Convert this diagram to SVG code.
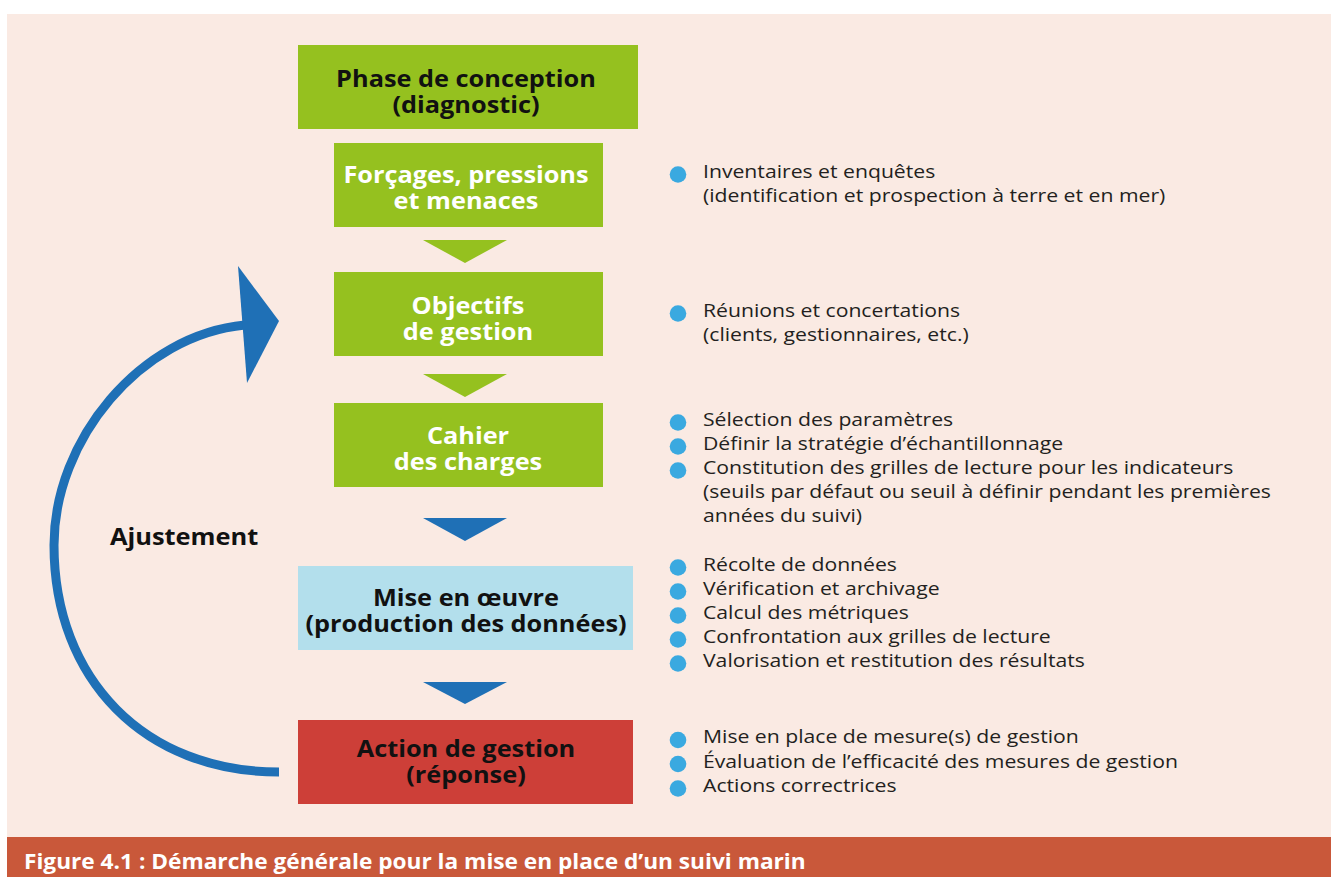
<svg xmlns="http://www.w3.org/2000/svg" width="1331" height="877" viewBox="0 0 1331 877">
<style>
.bg{fill:#FAEAE3}
.g{fill:#95C11F}
.lb{fill:#B3DFEC}
.rd{fill:#CD3F38}
.tb{font-family:"Open Sans","Liberation Sans",sans-serif;font-weight:700;font-size:24px;text-anchor:middle}
.w{fill:#FFFFFF}
.k{fill:#111111}
.bt{font-family:"Open Sans","Liberation Sans",sans-serif;font-size:18.5px;fill:#231F20}
.dot{fill:#3AA9E0}
.tg{fill:#95C11F}
.tbl{fill:#1F70B6}
</style>
<rect x="0" y="0" width="1331" height="877" fill="#FFFFFF"/>
<rect class="bg" x="7" y="14" width="1324" height="824"/>
<rect x="7" y="837" width="1324" height="40" fill="#C9583A"/>
<text transform="translate(24,0) scale(1.08,1) translate(-24,0)" x="24" y="869" font-family="'Open Sans','Liberation Sans',sans-serif" font-weight="700" font-size="21" fill="#FFFFFF">Figure 4.1 : Démarche générale pour la mise en place d’un suivi marin</text>

<g id="connectors">
<polygon class="tg" points="423,240 507,240 465,263"/>
<polygon class="tg" points="423,374 507,374 465,397"/>
<polygon class="tbl" points="423,518 507,518 465,541"/>
<polygon class="tbl" points="423,682 507,682 465,704"/>
<path d="M279,772 C145,772 54,680 54,545 C54,440 140,335 245,325" fill="none" stroke="#1F70B6" stroke-width="9"/>
<polygon class="tbl" points="238,266 279,321 247,383"/>
<text transform="translate(110,0) scale(1.105,1) translate(-110,0)" x="110" y="545" font-family="'Open Sans','Liberation Sans',sans-serif" font-weight="700" font-size="23" fill="#111111">Ajustement</text>
</g>

<g id="n1">
<rect class="g" x="298" y="45" width="340" height="84"/>
<g transform="translate(466,0) scale(1.055,1) translate(-466,0)">
<text class="tb k" x="466" y="87">Phase de conception</text>
<text class="tb k" x="466" y="113">(diagnostic)</text>
</g>
</g>
<g id="n2">
<rect class="g" x="334" y="143" width="269" height="84"/>
<g transform="translate(466,0) scale(1.055,1) translate(-466,0)">
<text class="tb w" x="466" y="183">Forçages, pressions</text>
<text class="tb w" x="466" y="209">et menaces</text>
</g>
</g>
<g id="n3">
<rect class="g" x="334" y="272" width="269" height="84"/>
<g transform="translate(468,0) scale(1.055,1) translate(-468,0)">
<text class="tb w" x="468" y="314">Objectifs</text>
<text class="tb w" x="468" y="340">de gestion</text>
</g>
</g>
<g id="n4">
<rect class="g" x="334" y="403" width="269" height="84"/>
<g transform="translate(468,0) scale(1.055,1) translate(-468,0)">
<text class="tb w" x="468" y="444">Cahier</text>
<text class="tb w" x="468" y="470">des charges</text>
</g>
</g>
<g id="n5">
<rect class="lb" x="298" y="566" width="335" height="84"/>
<g transform="translate(466,0) scale(1.055,1) translate(-466,0)">
<text class="tb k" x="466" y="606">Mise en œuvre</text>
<text class="tb k" x="466" y="632">(production des données)</text>
</g>
</g>
<g id="n6">
<rect class="rd" x="298" y="720" width="335" height="84"/>
<g transform="translate(466,0) scale(1.055,1) translate(-466,0)">
<text class="tb k" x="466" y="757">Action de gestion</text>
<text class="tb k" x="466" y="783">(réponse)</text>
</g>
</g>

<g id="list1">
<circle class="dot" cx="678" cy="174.5" r="8.3"/>
<g transform="translate(703,0) scale(1.145,1) translate(-703,0)">
<text class="bt" x="703" y="178">Inventaires et enquêtes</text>
<text class="bt" x="703" y="202">(identification et prospection à terre et en mer)</text>
</g>
</g>
<g id="list2">
<circle class="dot" cx="678" cy="313.5" r="8.3"/>
<g transform="translate(703,0) scale(1.145,1) translate(-703,0)">
<text class="bt" x="703" y="317">Réunions et concertations</text>
<text class="bt" x="703" y="341">(clients, gestionnaires, etc.)</text>
</g>
</g>
<g id="list3">
<circle class="dot" cx="678" cy="422.5" r="8.3"/>
<circle class="dot" cx="678" cy="446.5" r="8.3"/>
<circle class="dot" cx="678" cy="470.5" r="8.3"/>
<g transform="translate(703,0) scale(1.145,1) translate(-703,0)">
<text class="bt" x="703" y="426">Sélection des paramètres</text>
<text class="bt" x="703" y="450">Définir la stratégie d’échantillonnage</text>
<text class="bt" x="703" y="474">Constitution des grilles de lecture pour les indicateurs</text>
<text class="bt" x="703" y="498">(seuils par défaut ou seuil à définir pendant les premières</text>
<text class="bt" x="703" y="522">années du suivi)</text>
</g>
</g>
<g id="list4">
<circle class="dot" cx="678" cy="567.5" r="8.3"/>
<circle class="dot" cx="678" cy="591.5" r="8.3"/>
<circle class="dot" cx="678" cy="615.5" r="8.3"/>
<circle class="dot" cx="678" cy="639.5" r="8.3"/>
<circle class="dot" cx="678" cy="663.5" r="8.3"/>
<g transform="translate(703,0) scale(1.145,1) translate(-703,0)">
<text class="bt" x="703" y="571">Récolte de données</text>
<text class="bt" x="703" y="595">Vérification et archivage</text>
<text class="bt" x="703" y="619">Calcul des métriques</text>
<text class="bt" x="703" y="643">Confrontation aux grilles de lecture</text>
<text class="bt" x="703" y="667">Valorisation et restitution des résultats</text>
</g>
</g>
<g id="list5">
<circle class="dot" cx="678" cy="740" r="8.3"/>
<circle class="dot" cx="678" cy="764" r="8.3"/>
<circle class="dot" cx="678" cy="788.5" r="8.3"/>
<g transform="translate(703,0) scale(1.145,1) translate(-703,0)">
<text class="bt" x="703" y="743.5">Mise en place de mesure(s) de gestion</text>
<text class="bt" x="703" y="768">Évaluation de l’efficacité des mesures de gestion</text>
<text class="bt" x="703" y="792">Actions correctrices</text>
</g>
</g>
</svg>
